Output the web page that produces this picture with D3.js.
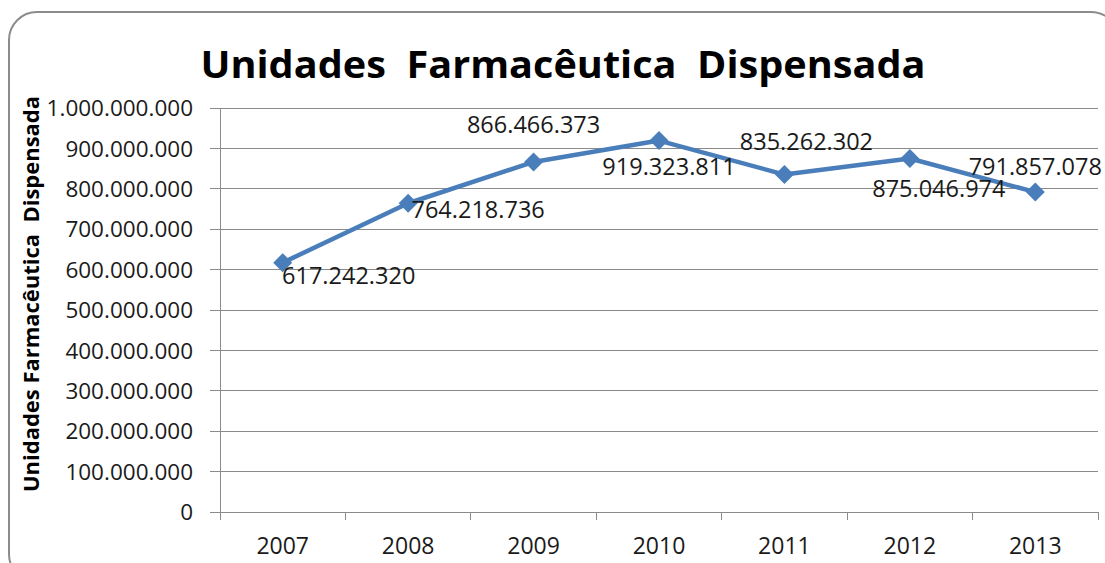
<!DOCTYPE html>
<html><head><meta charset="utf-8">
<script src="https://cdn.jsdelivr.net/npm/d3@7"></script>
<style>
html,body{margin:0;padding:0;background:#fff;}
svg{display:block;}
text{font-family:"Open Sans","DejaVu Sans",sans-serif;white-space:pre;}
</style></head>
<body>
<svg id="chart" width="1105" height="563"></svg>
<script>
// ---- data ----
const title = "Unidades  Farmacêutica  Dispensada";
const yTitle = "Unidades Farmacêutica  Dispensada";
const years = ["2007","2008","2009","2010","2011","2012","2013"];
const values = [617242320, 764218736, 866466373, 919323811, 835262302, 875046974, 791857078];
const yTicks = [0,100000000,200000000,300000000,400000000,500000000,600000000,700000000,800000000,900000000,1000000000];

// ---- layout (label offsets relative to each point) ----
const labelDx = [66, 70, 0, 10, 22, 29, 0];
const labelDy = [21, 15, -29, 34, -25, 39, -17];

const svg = d3.select("#chart");
const W = 1105, H = 563;
const L = 220, R = 1098, T = 108, B = 512;

const loc = d3.formatLocale({decimal:",", thousands:".", grouping:[3], currency:["",""]});
const fmt = loc.format(",d");

svg.append("rect").attr("width",W).attr("height",H).attr("fill","#fff");
svg.append("rect").attr("x",9).attr("y",12).attr("width",1110).attr("height",570)
  .attr("rx",28).attr("ry",28).attr("fill","none").attr("stroke","#8c8c8c").attr("stroke-width",2);

const x = d3.scaleBand().domain(years).range([L,R]).paddingInner(0).paddingOuter(0);
const y = d3.scaleLinear().domain([0,1000000000]).range([B,T]);
const cx = d => x(d) + x.bandwidth()/2;

// gridlines
svg.append("g").selectAll("line").data(yTicks).join("line")
  .attr("x1",L-10).attr("x2",R).attr("y1",d=>y(d)).attr("y2",d=>y(d))
  .attr("stroke","#8a8a8a").attr("stroke-width",1).attr("shape-rendering","crispEdges");

// y axis line
svg.append("line").attr("x1",L).attr("x2",L).attr("y1",T).attr("y2",B)
  .attr("stroke","#8a8a8a").attr("stroke-width",1).attr("shape-rendering","crispEdges");

// y tick labels
svg.append("g").selectAll("text").data(yTicks).join("text")
  .attr("x",193).attr("y",d=>y(d)).attr("dy","0.36em").attr("text-anchor","end")
  .attr("font-size",22.5).attr("fill","#1a1a1a").text(d=>fmt(d));

// x axis ticks (category boundaries)
const bounds = years.map(d=>x(d)).concat([R]);
svg.append("g").selectAll("line").data(bounds).join("line")
  .attr("x1",d=>d).attr("x2",d=>d).attr("y1",B).attr("y2",B+8)
  .attr("stroke","#8a8a8a").attr("stroke-width",1).attr("shape-rendering","crispEdges");

// x labels
svg.append("g").selectAll("text").data(years).join("text")
  .attr("x",d=>cx(d)).attr("y",554).attr("text-anchor","middle")
  .attr("font-size",23).attr("fill","#1a1a1a").text(d=>d);

// line
const pts = years.map((d,i)=>[cx(d), y(values[i])]);
svg.append("path").attr("d", d3.line()(pts)).attr("fill","none")
  .attr("stroke","#4a7ebb").attr("stroke-width",4.5).attr("stroke-linejoin","round");

// markers
svg.append("g").selectAll("path").data(pts).join("path")
  .attr("d", d3.symbol().type(d3.symbolDiamond2).size(230))
  .attr("transform", d=>`translate(${d[0]},${d[1]})`)
  .attr("fill","#4a7ebb");

// data labels
svg.append("g").selectAll("text").data(values).join("text")
  .attr("x",(d,i)=>pts[i][0]+labelDx[i]).attr("y",(d,i)=>pts[i][1]+labelDy[i])
  .attr("text-anchor","middle").attr("font-size",23.5).attr("fill","#1a1a1a")
  .text(d=>fmt(d));

// title
svg.append("text").attr("x",563).attr("y",78).attr("text-anchor","middle")
  .attr("font-size",38).attr("font-weight","bold").attr("fill","#000")
  .attr("textLength",725).attr("lengthAdjust","spacingAndGlyphs").text(title);

// y title
svg.append("text").attr("transform","translate(39,294) rotate(-90)").attr("text-anchor","middle")
  .attr("font-size",21).attr("font-weight","bold").attr("fill","#000")
  .attr("textLength",396).attr("lengthAdjust","spacingAndGlyphs").text(yTitle);
</script>
</body></html>
